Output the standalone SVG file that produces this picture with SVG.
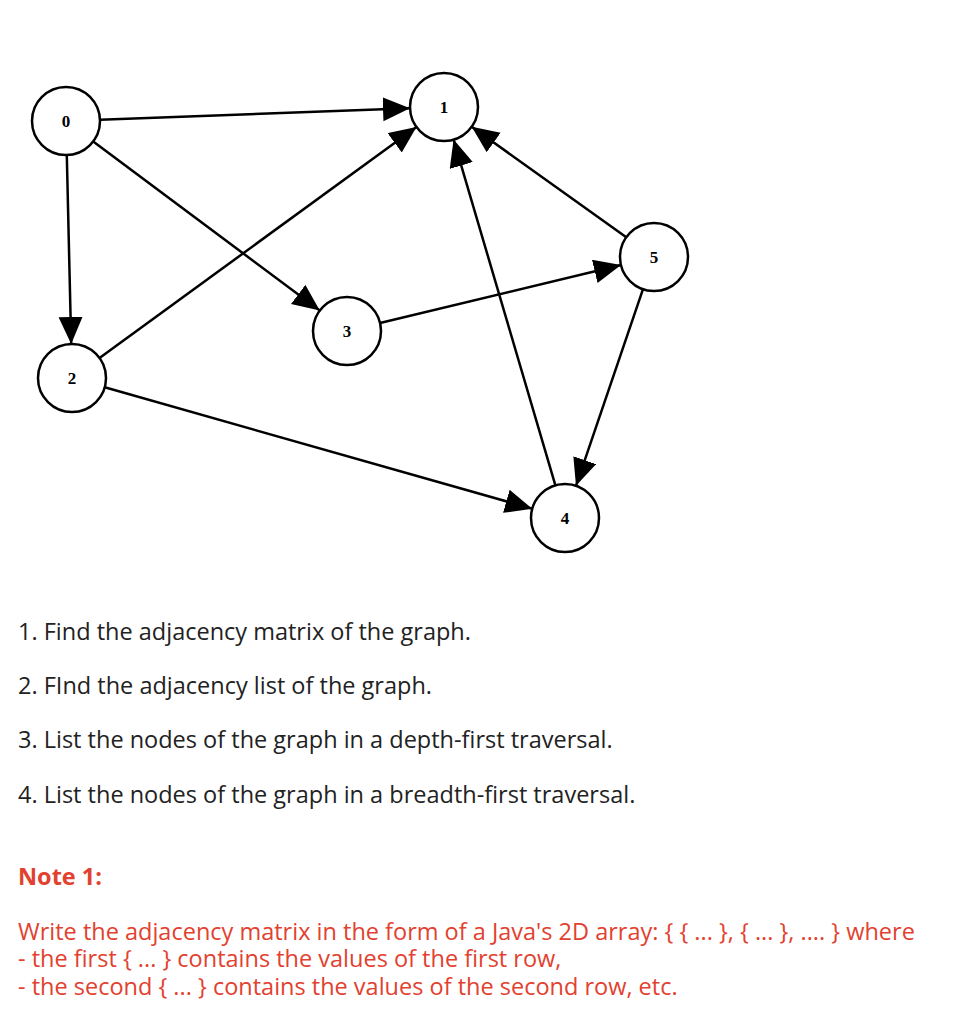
<svg xmlns="http://www.w3.org/2000/svg" width="979" height="1024" viewBox="0 0 979 1024">
<style>
.n circle{fill:#fff;stroke:#000;stroke-width:2.5}
.n text{font-family:"Liberation Serif",serif;font-weight:bold;font-size:17px;text-anchor:middle}
#edges line{stroke:#000;stroke-width:2.5;marker-end:url(#a)}
.t{font-family:"Open Sans",sans-serif;font-size:23.5px;fill:#222}
.r{font-family:"Open Sans",sans-serif;font-size:23.5px;fill:#e2412f}
</style>
<defs><marker id="a" markerUnits="userSpaceOnUse" markerWidth="30" markerHeight="26" refX="27" refY="12" orient="auto"><path d="M0,0 L27,12 L0,24 z"/></marker></defs>
<rect width="979" height="1024" fill="#fff"/>
<g id="edges">
<line x1="100" y1="119.7" x2="410" y2="108.3"/>
<line x1="93.2" y1="141.4" x2="319.8" y2="310.6"/>
<line x1="66.8" y1="155" x2="71.2" y2="344"/>
<line x1="99.5" y1="358" x2="416.5" y2="127"/>
<line x1="380" y1="323" x2="621" y2="265"/>
<line x1="626.3" y1="237.2" x2="471.7" y2="126.8"/>
<line x1="555.4" y1="485.4" x2="453.6" y2="139.6"/>
<line x1="643" y1="289.2" x2="576" y2="485.8"/>
<line x1="104.7" y1="387.3" x2="532.3" y2="508.7"/>
</g>
<g id="n0" class="n"><circle cx="66" cy="121" r="34"/><text x="66" y="127">0</text></g>
<g id="n1" class="n"><circle cx="444" cy="107" r="34"/><text x="444" y="113">1</text></g>
<g id="n2" class="n"><circle cx="72" cy="378" r="34"/><text x="72" y="384">2</text></g>
<g id="n3" class="n"><circle cx="347" cy="331" r="34"/><text x="347" y="337">3</text></g>
<g id="n4" class="n"><circle cx="565" cy="518" r="34"/><text x="565" y="524">4</text></g>
<g id="n5" class="n"><circle cx="654" cy="257" r="34"/><text x="654" y="263">5</text></g>
<text class="t" x="18" y="640">1. Find the adjacency matrix of the graph.</text>
<text class="t" x="18" y="694">2. FInd the adjacency list of the graph.</text>
<text class="t" x="18" y="748">3. List the nodes of the graph in a depth-first traversal.</text>
<text class="t" x="18" y="803">4. List the nodes of the graph in a breadth-first traversal.</text>
<text class="r" x="18" y="885" font-weight="bold">Note 1:</text>
<text class="r" x="18" y="940">Write the adjacency matrix in the form of a Java's 2D array: { { ... }, { ... }, .... } where</text>
<text class="r" x="18" y="967">- the first { ... } contains the values of the first row,</text>
<text class="r" x="18" y="995">- the second { ... } contains the values of the second row, etc.</text>
</svg>
